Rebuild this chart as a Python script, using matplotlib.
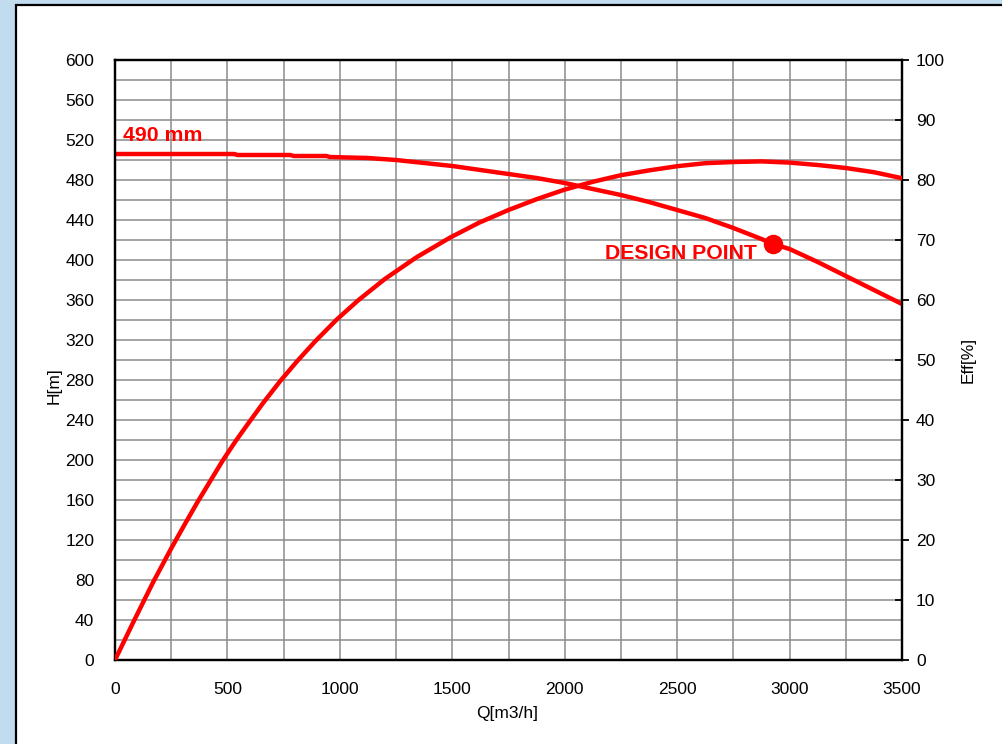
import numpy as np
import matplotlib.pyplot as plt
from matplotlib.patches import Rectangle
from matplotlib.ticker import MultipleLocator, FixedLocator, FixedFormatter

plt.rcParams['font.family'] = ['Liberation Sans', 'DejaVu Sans']

# Head curve H(Q), impeller 490 mm
q_head = [0, 530, 545, 780, 795, 940, 955, 1125, 1250, 1375, 1500, 1625, 1750, 1875, 2000,
          2125, 2250, 2375, 2500, 2625, 2750, 2875, 2926, 3000, 3125, 3250, 3375, 3500]
h_head = [506, 506, 505, 505, 504, 504, 503, 502, 500, 497, 494, 490, 486, 482, 477,
          471, 465, 458, 450, 442, 432, 421, 416, 411, 398, 384, 370, 356]

# Efficiency curve Eff(Q)
q_eff = [0, 40, 80, 125, 170, 210, 250, 310, 365, 420, 480, 535, 590, 660, 735, 810, 890,
         985, 1080, 1200, 1340, 1490, 1620, 1750, 1875, 2000, 2125, 2250, 2375, 2500,
         2625, 2750, 2875, 3000, 3125, 3250, 3375, 3500]
eff = [0, 3.1, 6.2, 9.6, 13.0, 15.8, 18.6, 22.6, 26.2, 29.6, 33.3, 36.4, 39.3, 42.9, 46.5, 49.8, 53.1,
       56.7, 59.9, 63.5, 67.1, 70.4, 72.9, 75.0, 76.8, 78.4, 79.7, 80.8, 81.6, 82.3,
       82.8, 83.0, 83.1, 82.9, 82.5, 82.0, 81.3, 80.3]

design_q = 2926
design_h = 416

red = '#ff0000'
W, H = 1002, 744

fig = plt.figure(figsize=(W / 100, H / 100), dpi=100, facecolor='#c2dcef')
# white panel with black frame
fig.patches.append(Rectangle((16 / W, -0.05), 1.1, 1 - 5 / H + 0.05, transform=fig.transFigure,
                             facecolor='white', edgecolor='black', linewidth=1.6, zorder=-10))

ax = fig.add_axes([115 / W, 84 / H, 787 / W, 600 / H])
ax.set_facecolor('none')
ax.set_xlim(0, 3500)
ax.set_ylim(0, 600)
ax.xaxis.set_major_locator(MultipleLocator(500))
ax.xaxis.set_minor_locator(MultipleLocator(250))
ax.yaxis.set_major_locator(MultipleLocator(40))
ax.yaxis.set_minor_locator(MultipleLocator(20))
ax.grid(True, which='both', color='#8c8c8c', linewidth=1.1)
ax.set_axisbelow(True)
ax.tick_params(which='both', length=0)
ax.tick_params(axis='y', pad=15, labelsize=12.5)
ax.tick_params(axis='x', pad=16, labelsize=12.5)
for s in ax.spines.values():
    s.set_linewidth(1.6)
    s.set_color('black')

ax.plot(q_head, h_head, color=red, linewidth=3.2, solid_joinstyle='round', zorder=3)
ax.plot([design_q], [design_h], 'o', color=red, markersize=13, zorder=4)
ax.text(36, 519, '490 mm', color=red, fontsize=15.3, fontweight='bold', va='baseline', ha='left')
ax.text(2855, 401, 'DESIGN POINT', color=red, fontsize=15.3, fontweight='bold', va='baseline', ha='right')

ax.set_xlabel('Q[m3/h]', fontsize=12.5)
ax.xaxis.set_label_coords(0.498, -0.077)
ax.set_ylabel('H[m]', fontsize=12.5)
ax.yaxis.set_label_coords(-0.068, 0.458)

ax2 = ax.twinx()
ax2.set_ylim(0, 100)
ax2.plot(q_eff, eff, color=red, linewidth=3.2, solid_joinstyle='round', zorder=3)
ax2.yaxis.set_major_locator(FixedLocator([0, 20, 40, 60, 80, 100]))
ax2.yaxis.set_minor_locator(FixedLocator([10, 30, 50, 70, 90]))
ax2.yaxis.set_minor_formatter(FixedFormatter(['10', '30', '50', '70', '90']))
ax2.tick_params(axis='y', which='major', direction='out', length=5, width=1.3, pad=5, labelsize=12.5)
ax2.tick_params(axis='y', which='minor', direction='in', length=5, width=1.3, pad=10, labelsize=12.5)
for s in ax2.spines.values():
    s.set_linewidth(1.6)
ax2.set_ylabel('Eff[%]', fontsize=12.5)
ax2.yaxis.set_label_coords(1.075, 0.5)

fig.savefig('out.png', dpi=100, facecolor=fig.get_facecolor())
